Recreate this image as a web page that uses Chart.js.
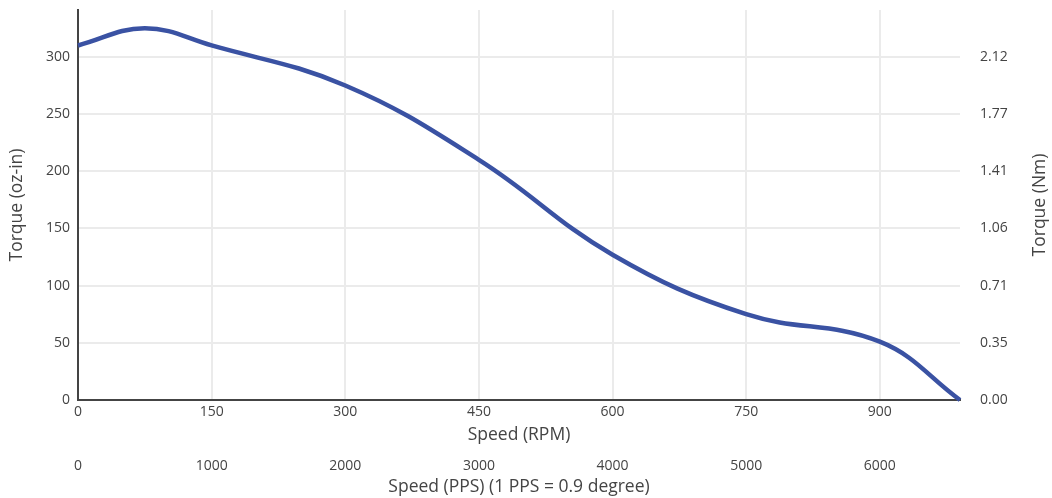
<!DOCTYPE html>
<html>
<head>
<meta charset="utf-8">
<script src="https://cdn.jsdelivr.net/npm/chart.js@4"></script>
<style>
  body{margin:0;background:#fff;}
  #wrap{width:1052px;height:498px;}
</style>
</head>
<body>
<div id="wrap"><canvas id="torqueChart" width="1052" height="498"></canvas></div>
<script>
// speed in RPM and pull-out torque in oz-in
let rpm=[0,75,150,300,450,600,750,900,990];
let torque=[310,325,310,275,210,127,75,51,0];
let rpmTicks=[0,150,300,450,600,750,900];
let ppsTicks=[0,1000,2000,3000,4000,5000,6000];
let torqueTicks=[0,50,100,150,200,250,300];
let rpmMax=990;
let ppsMax=6600;
let torqueMax=341;
let ozinToNm=0.00706155;

let txt='#444';
let gridCol='#ebebeb';
let fontFam="'Open Sans', sans-serif";
let tickFont={family:fontFam,size:14};
let titleFont={family:fontFam,size:17.5};

let pts=[];
for(let i=0;i<rpm.length;++i){
    pts.push({x:rpm[i],y:torque[i]});
}

function setTicks(list){
    return function(s){ s.ticks=list.map(function(v){return {value:v};}); };
}
function noPad(s){
    s.paddingTop=0; s.paddingBottom=0; s.paddingLeft=0; s.paddingRight=0;
}

// right hand title reads bottom-to-top, so draw it ourselves
let rightTitle={
    id:'rightTitle',
    afterDraw(chart){
        let ctx=chart.ctx;
        let area=chart.chartArea;
        ctx.save();
        ctx.translate(1040,(area.top+area.bottom)/2);
        ctx.rotate(-Math.PI/2);
        ctx.fillStyle=txt;
        ctx.font="17.5px "+fontFam;
        ctx.textAlign='center';
        ctx.textBaseline='middle';
        ctx.fillText('Torque (Nm)',0,0);
        ctx.restore();
    }
};

new Chart("torqueChart",{
    type:"line",
    data:{
        datasets:[{
            data:pts,
            borderColor:"#3a52a3",
            borderWidth:4.5,
            pointRadius:0,
            tension:0.4,
            fill:false,
            clip:false
        }]
    },
    options:{
        responsive:false,
        animation:false,
        layout:{padding:{top:10,left:0,right:0,bottom:0}},
        plugins:{
            legend:{display:false},
            tooltip:{enabled:false}
        },
        scales:{
            x:{
                type:'linear',
                position:'bottom',
                min:0,max:rpmMax,
                afterBuildTicks:setTicks(rpmTicks),
                afterFit(s){s.height=46;noPad(s);},
                ticks:{padding:4,color:txt,font:tickFont,callback:function(v){return String(v);}},
                grid:{color:gridCol,lineWidth:2,drawTicks:false},
                border:{display:true,color:'#444',width:2},
                title:{display:true,text:'Speed (RPM)',color:txt,font:titleFont,padding:{top:0,bottom:0}}
            },
            x2:{
                type:'linear',
                position:'bottom',
                min:0,max:ppsMax,
                afterBuildTicks:setTicks(ppsTicks),
                afterFit(s){s.height=52;noPad(s);},
                ticks:{padding:12,color:txt,font:tickFont,callback:function(v){return String(v);}},
                grid:{display:false,drawTicks:false},
                border:{display:false},
                title:{display:true,text:'Speed (PPS) (1 PPS = 0.9 degree)',color:txt,font:titleFont,padding:{top:0,bottom:0}}
            },
            y:{
                position:'left',
                min:0,max:torqueMax,
                afterBuildTicks:setTicks(torqueTicks),
                afterFit(s){s.width=78;noPad(s);},
                ticks:{padding:8,color:txt,font:tickFont},
                grid:{color:gridCol,lineWidth:2,drawTicks:false},
                border:{display:true,color:'#444',width:2},
                title:{display:true,text:'Torque (oz-in)',color:txt,font:titleFont,padding:{top:7,bottom:0}}
            },
            y2:{
                position:'right',
                min:0,max:torqueMax,
                afterBuildTicks:setTicks(torqueTicks),
                afterFit(s){s.width=92;noPad(s);},
                ticks:{
                    padding:20,color:txt,font:tickFont,
                    callback:function(v){return (v*ozinToNm).toFixed(2);}
                },
                grid:{display:false,drawTicks:false},
                border:{display:false}
            }
        }
    },
    plugins:[rightTitle]
});
</script>
</body>
</html>
